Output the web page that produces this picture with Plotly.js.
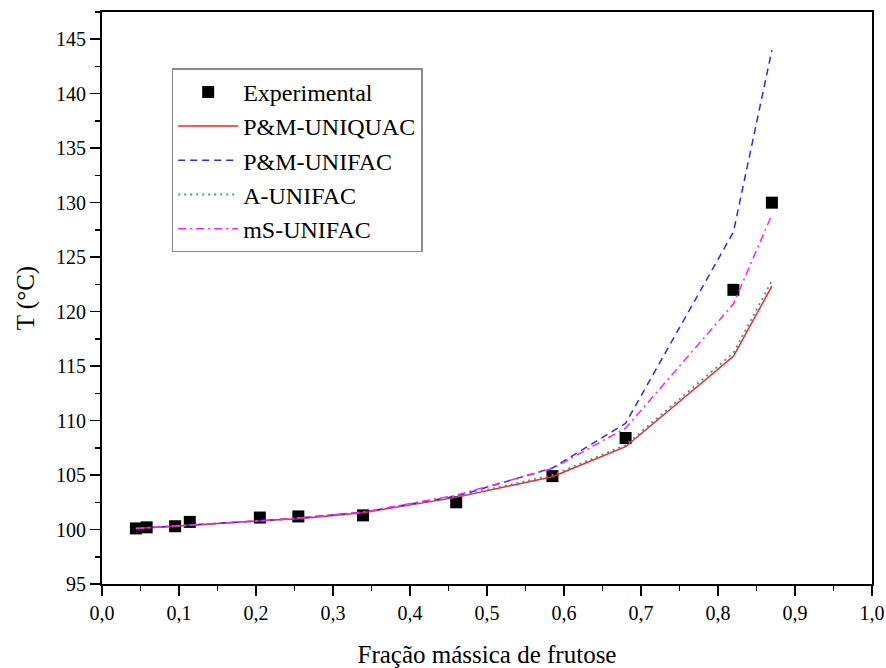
<!DOCTYPE html>
<html>
<head>
<meta charset="utf-8">
<script src="https://cdn.plot.ly/plotly-3.0.1.min.js"></script>
<style>
  html, body { margin: 0; padding: 0; background: #ffffff; }
  #chart { width: 886px; height: 668px; }
</style>
</head>
<body>
<div id="chart"></div>
<script>
// Mass fraction of fructose (x) and boiling temperature (°C)
const fracExp = [0.044, 0.058, 0.095, 0.114, 0.205, 0.255, 0.339, 0.46, 0.585, 0.68, 0.82, 0.87];
const tExp    = [100.1, 100.2, 100.3, 100.7, 101.1, 101.2, 101.3, 102.5, 104.9, 108.4, 122.0, 130.0];

// Model curves evaluated at the same compositions
const fracModel   = [0.044, 0.058, 0.095, 0.114, 0.205, 0.255, 0.339, 0.46, 0.585, 0.68, 0.82, 0.87];
const tPMUniquac  = [100.1, 100.15, 100.3, 100.4, 100.8, 101.0, 101.55, 102.95, 104.85, 107.6, 115.9, 122.35];
const tPMUnifac   = [100.1, 100.15, 100.3, 100.4, 100.8, 101.05, 101.6, 103.05, 105.65, 109.75, 127.3, 144.0];
const tAUnifac    = [100.1, 100.15, 100.3, 100.4, 100.8, 101.05, 101.6, 103.0, 105.0, 107.75, 116.2, 122.85];
const tMSUnifac   = [100.1, 100.15, 100.3, 100.4, 100.8, 101.05, 101.6, 103.15, 105.6, 109.3, 120.7, 128.9];

const seriesNames = ['Experimental', 'P&M-UNIQUAC', 'P&M-UNIFAC', 'A-UNIFAC', 'mS-UNIFAC'];

const serif = '"Liberation Serif", "Times New Roman", serif';

const traces = [
  {
    x: fracExp, y: tExp, name: seriesNames[0], type: 'scatter', mode: 'markers',
    marker: { symbol: 'square', size: 12, color: '#000000' }
  },
  {
    x: fracModel, y: tPMUniquac, name: seriesNames[1], type: 'scatter', mode: 'lines',
    line: { color: '#ff2020', width: 1.5 }
  },
  {
    x: fracModel, y: tPMUnifac, name: seriesNames[2], type: 'scatter', mode: 'lines',
    line: { color: '#2a2af0', width: 1.5, dash: '7px,5px' }
  },
  {
    x: fracModel, y: tAUnifac, name: seriesNames[3], type: 'scatter', mode: 'lines',
    line: { color: '#3a9a9a', width: 1.8, dash: '2px,4px' }
  },
  {
    x: fracModel, y: tMSUnifac, name: seriesNames[4], type: 'scatter', mode: 'lines',
    line: { color: '#ff20ff', width: 1.5, dash: '8px,4px,2px,4px' }
  }
];

const layout = {
  width: 886, height: 668,
  margin: { l: 102, r: 14, t: 12, b: 84 },
  paper_bgcolor: '#ffffff',
  plot_bgcolor: '#ffffff',
  separators: ', ',
  font: { family: serif, color: '#000000', size: 20 },
  showlegend: true,
  legend: {
    x: 0.0905, y: 0.9016, xanchor: 'left', yanchor: 'top',
    bgcolor: '#ffffff', bordercolor: '#8a8a8a', borderwidth: 1.5,
    font: { family: serif, size: 24, color: '#000000' },
    itemwidth: 60, tracegroupgap: 0
  },
  xaxis: {
    range: [0, 1], dtick: 0.1, tick0: 0, tickformat: '.1f',
    ticks: 'outside', ticklen: 10, tickwidth: 1.5, tickcolor: '#000000',
    minor: { dtick: 0.05, ticks: 'outside', ticklen: 5, tickwidth: 1.5, tickcolor: '#000000' },
    showline: true, linecolor: '#000000', linewidth: 2, mirror: true,
    showgrid: false, zeroline: false,
    tickfont: { family: serif, size: 20 },
    title: { text: 'Fração mássica de frutose', font: { family: serif, size: 25 }, standoff: 24 }
  },
  yaxis: {
    range: [95, 147.5], dtick: 5, tick0: 95,
    ticks: 'outside', ticklen: 10, tickwidth: 1.5, tickcolor: '#000000',
    minor: { dtick: 2.5, ticks: 'outside', ticklen: 5, tickwidth: 1.5, tickcolor: '#000000' },
    showline: true, linecolor: '#000000', linewidth: 2, mirror: true,
    showgrid: false, zeroline: false,
    tickfont: { family: serif, size: 20 },
    title: { text: 'T (°C)', font: { family: serif, size: 25 }, standoff: 14 }
  }
};

Plotly.newPlot('chart', traces, layout, { displayModeBar: false, staticPlot: true });
</script>
</body>
</html>
